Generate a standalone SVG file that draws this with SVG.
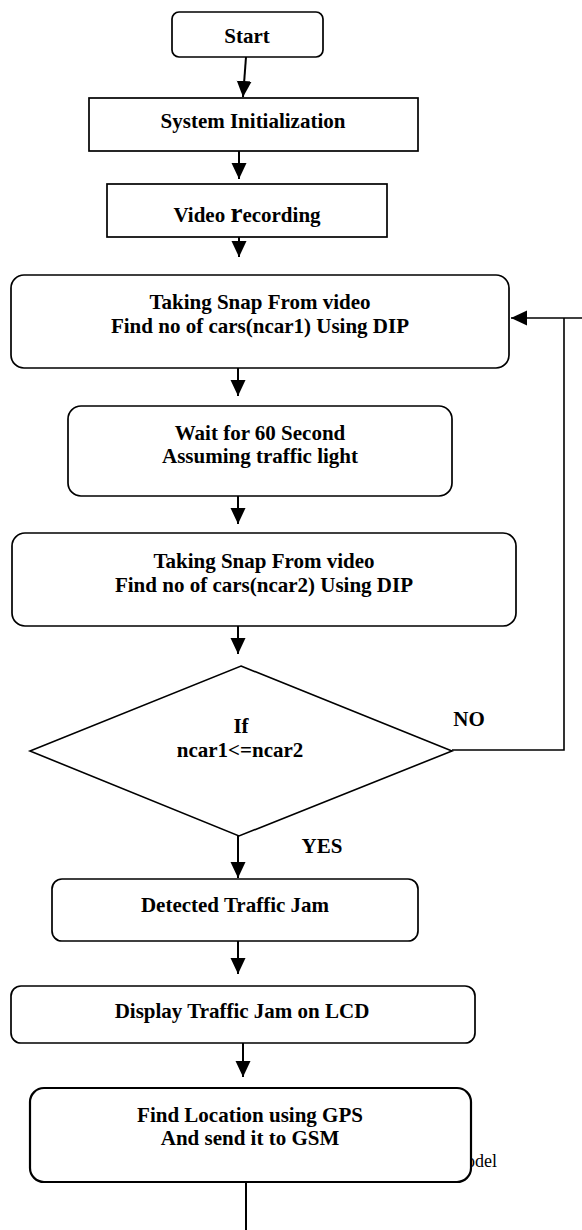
<svg xmlns="http://www.w3.org/2000/svg" width="582" height="1230" viewBox="0 0 582 1230">
<style>
.box{fill:#fff;stroke:#000;stroke-width:1.7}
.t{font-family:"Liberation Serif","Times New Roman",serif;font-weight:bold;font-size:21px;text-anchor:middle;fill:#000}
.lbl{font-family:"Liberation Serif","Times New Roman",serif;font-weight:bold;font-size:21px;text-anchor:middle;fill:#000}
.ln{fill:none;stroke:#000;stroke-width:2}
.fb{fill:none;stroke:#000;stroke-width:1.6}
</style>
<defs>
<marker id="ah" markerUnits="userSpaceOnUse" markerWidth="16" markerHeight="16" refX="16" refY="7.5" orient="auto">
<path d="M0,0 L16,7.5 L0,15 z" fill="#000"/>
</marker>
</defs>
<rect width="582" height="1230" fill="#fff"/>
<text x="466" y="1167" style="font-family:'Liberation Serif','Times New Roman',serif;font-size:18px;fill:#000">odel</text>
<g id="connectors">
<line class="ln" x1="246" y1="57" x2="243" y2="97" marker-end="url(#ah)"/>
<line class="ln" x1="239" y1="151" x2="239" y2="179" marker-end="url(#ah)"/>
<line class="ln" x1="239" y1="237" x2="239" y2="257" marker-end="url(#ah)"/>
<line class="ln" x1="238" y1="368" x2="238" y2="396" marker-end="url(#ah)"/>
<line class="ln" x1="238" y1="496" x2="238" y2="524" marker-end="url(#ah)"/>
<line class="ln" x1="238" y1="626" x2="238" y2="654" marker-end="url(#ah)"/>
<line class="ln" x1="238" y1="836" x2="238" y2="878" marker-end="url(#ah)"/>
<line class="ln" x1="238" y1="941" x2="238" y2="974" marker-end="url(#ah)"/>
<line class="ln" x1="243" y1="1043" x2="243" y2="1077" marker-end="url(#ah)"/>
<line class="ln" x1="246" y1="1182" x2="246" y2="1230"/>
<polyline class="fb" points="452,750 564,750 564,318"/>
<line class="fb" x1="582" y1="318" x2="511" y2="318" marker-end="url(#ah)"/>
<text class="lbl" x="469" y="726">NO</text>
<text class="lbl" x="322" y="853">YES</text>
</g>
<g id="start">
<rect class="box" x="172" y="12" width="151" height="45" rx="7"/>
<text class="t" x="247" y="43">Start</text>
</g>
<g id="sysinit">
<rect class="box" x="89" y="98" width="329" height="53"/>
<text class="t" x="253" y="128">System Initialization</text>
</g>
<g id="video">
<rect class="box" x="107" y="184" width="280" height="53"/>
<text class="t" x="247" y="222">Video <tspan style="font-size:27px">r</tspan>ecording</text>
</g>
<g id="snap1">
<rect class="box" x="11" y="275" width="498" height="93" rx="13"/>
<text class="t" x="260" y="309">Taking Snap From video</text>
<text class="t" x="260" y="333">Find no of cars(ncar1) Using DIP</text>
</g>
<g id="wait">
<rect class="box" x="68" y="406" width="384" height="90" rx="13"/>
<text class="t" x="260" y="440">Wait for 60 Second</text>
<text class="t" x="260" y="463">Assuming traffic light</text>
</g>
<g id="snap2">
<rect class="box" x="12" y="533" width="504" height="93" rx="13"/>
<text class="t" x="264" y="568">Taking Snap From video</text>
<text class="t" x="264" y="592">Find no of cars(ncar2) Using DIP</text>
</g>
<g id="decision">
<polygon points="241,666 452,751 239,836 30,751" fill="#fff" stroke="#000" stroke-width="1.6"/>
<text class="t" x="241" y="733">If</text>
<text class="t" x="240" y="757">ncar1&lt;=ncar2</text>
</g>
<g id="detected">
<rect class="box" x="52" y="879" width="366" height="62" rx="10"/>
<text class="t" x="235" y="912">Detected Traffic Jam</text>
</g>
<g id="display">
<rect class="box" x="11" y="986" width="464" height="57" rx="10"/>
<text class="t" x="242" y="1018">Display Traffic Jam on LCD</text>
</g>
<g id="gps">
<rect class="box" x="30" y="1088" width="441" height="94" rx="14" style="stroke-width:2.2"/>
<text class="t" x="250" y="1122">Find Location using GPS</text>
<text class="t" x="250" y="1145">And send it to GSM</text>
</g>
</svg>
